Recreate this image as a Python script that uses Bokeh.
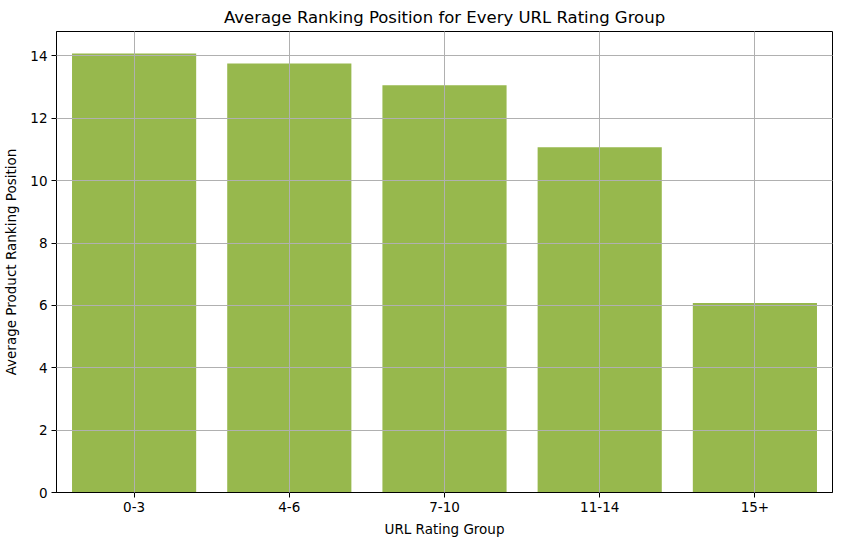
from bokeh.plotting import figure
from bokeh.models import Range1d, FactorRange, ColumnDataSource, FixedTicker
from bokeh.embed import file_html
from bokeh.resources import INLINE

groups = ["0-3", "4-6", "7-10", "11-14", "15+"]
avg_rank = [14.08, 13.76, 13.06, 11.07, 6.08]

src = ColumnDataSource(dict(group=groups, rank=avg_rank))

p = figure(x_range=FactorRange(*groups), y_range=Range1d(0, max(avg_rank) * 1.05),
           frame_width=776, frame_height=461,
           min_border_left=54, min_border_right=1, min_border_top=26, min_border_bottom=45,
           output_backend="svg", toolbar_location=None,
           title="Average Ranking Position for Every URL Rating Group")

p.vbar(x="group", top="rank", width=0.8, source=src, fill_color="#97b84d", line_color=None)

font = "DejaVu Sans"
p.title.align = "center"
p.title.text_font = font
p.title.text_font_style = "normal"
p.title.text_font_size = "16.5px"
p.title.text_color = "black"
p.title.standoff = 10

p.outline_line_color = "black"
p.outline_line_width = 1
p.outline_line_alpha = 1

for ax in (p.xaxis[0], p.yaxis[0]):
    ax.axis_line_color = "black"
    ax.major_tick_line_color = "black"
    ax.major_tick_out = 5
    ax.major_tick_in = 0
    ax.minor_tick_line_color = None
    ax.major_label_text_font = font
    ax.major_label_text_font_size = "13.5px"
    ax.major_label_text_color = "black"
    ax.major_label_standoff = 4
    ax.axis_label_text_font = font
    ax.axis_label_text_font_size = "13.5px"
    ax.axis_label_text_font_style = "normal"
    ax.axis_label_text_color = "black"

p.yaxis.ticker = FixedTicker(ticks=[0, 2, 4, 6, 8, 10, 12, 14])
p.xaxis.axis_label = "URL Rating Group"
p.yaxis.axis_label = "Average Product Ranking Position"
p.xaxis.axis_label_standoff = 6
p.yaxis.axis_label_standoff = 8

for g in (p.xgrid[0], p.ygrid[0]):
    g.grid_line_color = "#b0b0b0"
    g.grid_line_width = 1
    g.level = "overlay"

open("out.html", "w").write(file_html(p, INLINE))
